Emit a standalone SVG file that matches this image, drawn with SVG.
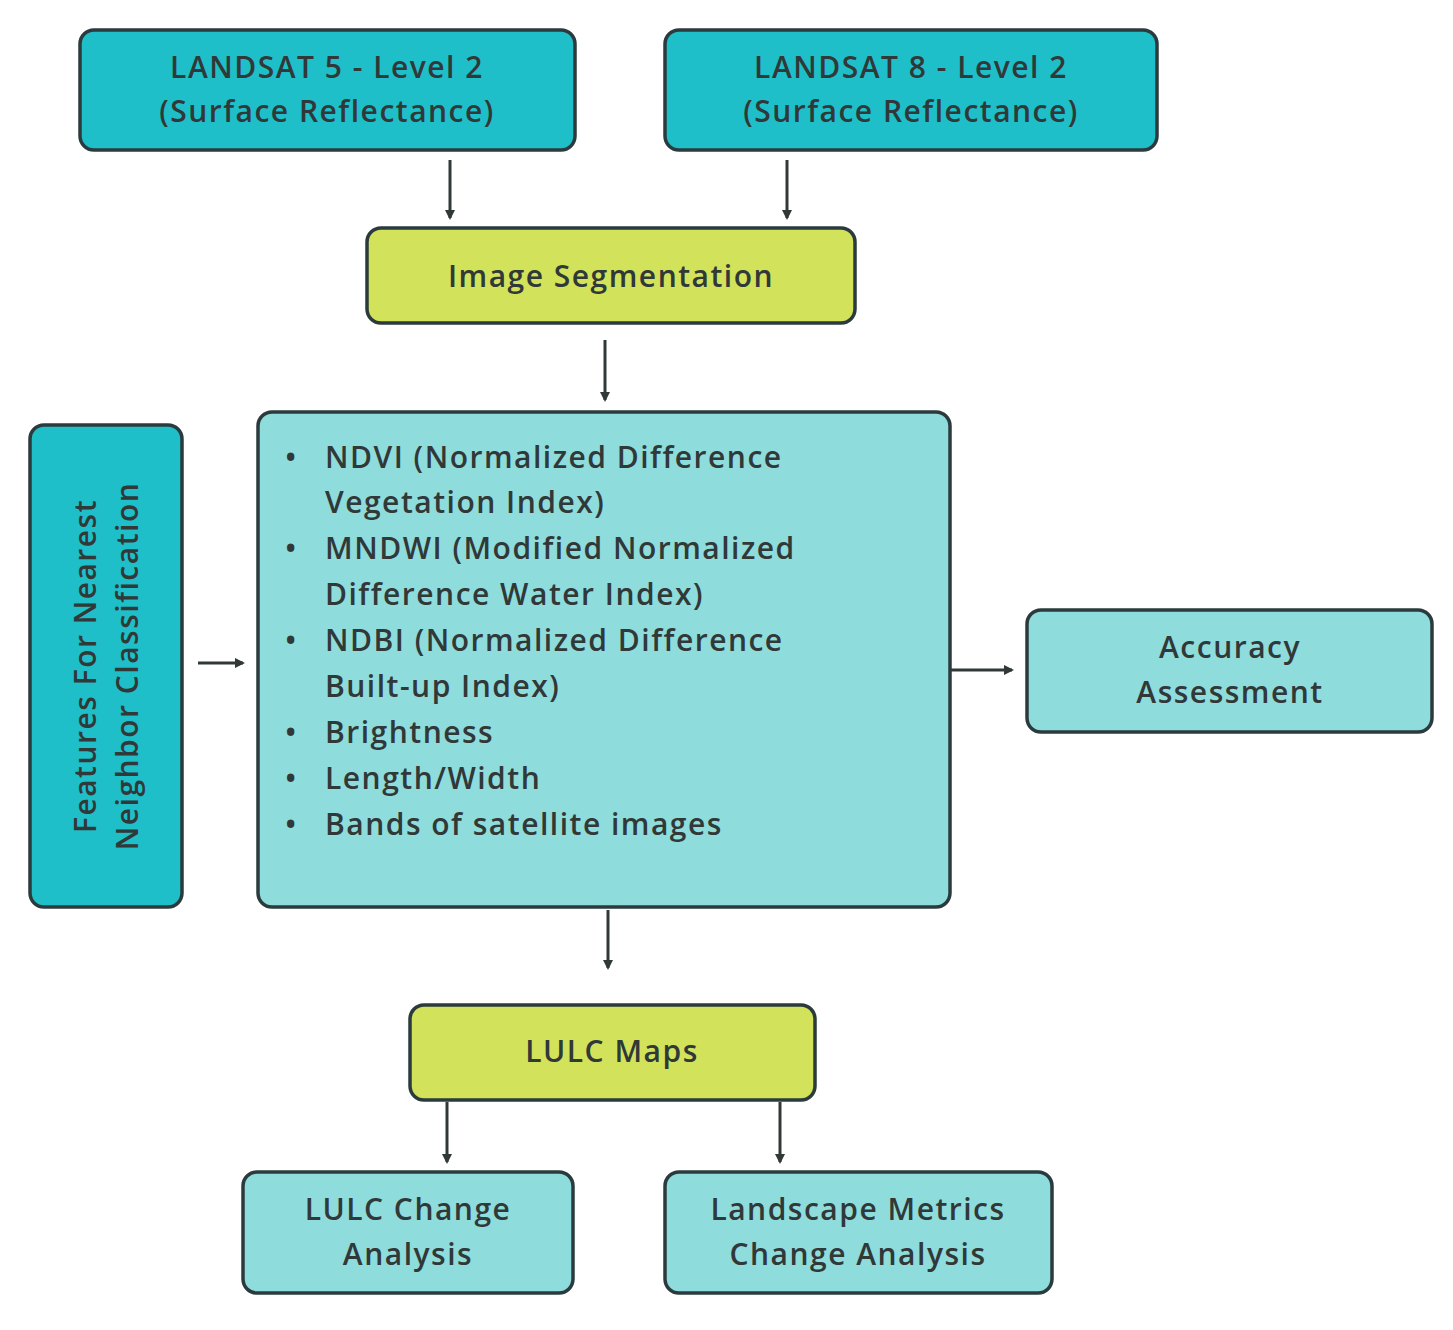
<svg xmlns="http://www.w3.org/2000/svg" width="1453" height="1330" viewBox="0 0 1453 1330">
<defs>
<style>
.box{stroke:#2b3b3d;stroke-width:3.5}
.dark{fill:#1fbfc9}
.light{fill:#8fdcdc}
.yel{fill:#d2e25a}
text{font-family:"Open Sans","DejaVu Sans",sans-serif;font-weight:600;font-size:30px;fill:#303838;letter-spacing:1.5px}
.c{text-anchor:middle}
.ln{stroke:#303838;stroke-width:3;fill:none;marker-end:url(#ah)}
</style>
<marker id="ah" markerWidth="10" markerHeight="10" refX="8" refY="5" orient="auto" markerUnits="userSpaceOnUse"><path d="M0,0 L10,5 L0,10 z" fill="#303838"/></marker>
</defs>
<rect width="1453" height="1330" fill="#fff"/>
<g id="connectors">
<line class="ln" x1="450" y1="160" x2="450" y2="218"/>
<line class="ln" x1="787" y1="160" x2="787" y2="218"/>
<line class="ln" x1="605" y1="340" x2="605" y2="400"/>
<line class="ln" x1="198" y1="663" x2="243" y2="663"/>
<line class="ln" x1="950" y1="670" x2="1012" y2="670"/>
<line class="ln" x1="608" y1="910" x2="608" y2="968"/>
<line class="ln" x1="447" y1="1102" x2="447" y2="1162"/>
<line class="ln" x1="780" y1="1102" x2="780" y2="1162"/>
</g>
<g id="landsat5"><rect class="box dark" x="80" y="30" width="495" height="120" rx="14"/>
<text class="c" x="327" y="78">LANDSAT 5 - Level 2</text><text class="c" x="327" y="122">(Surface Reflectance)</text></g>
<g id="landsat8"><rect class="box dark" x="665" y="30" width="492" height="120" rx="14"/>
<text class="c" x="911" y="78">LANDSAT 8 - Level 2</text><text class="c" x="911" y="122">(Surface Reflectance)</text></g>
<g id="segmentation"><rect class="box yel" x="367" y="228" width="488" height="95" rx="14"/>
<text class="c" x="611" y="287">Image Segmentation</text></g>
<g id="features"><rect class="box dark" x="30" y="425" width="152" height="482" rx="14"/>
<text class="c" transform="translate(96,666) rotate(-90)">Features For Nearest</text>
<text class="c" transform="translate(138,666) rotate(-90)">Neighbor Classification</text></g>
<g id="indices"><rect class="box light" x="258" y="412" width="692" height="495" rx="14"/>
<g>
<text x="285" y="468">•</text><text x="325" y="468">NDVI (Normalized Difference</text>
<text x="325" y="513">Vegetation Index)</text>
<text x="285" y="559">•</text><text x="325" y="559">MNDWI (Modified Normalized</text>
<text x="325" y="605">Difference Water Index)</text>
<text x="285" y="651">•</text><text x="325" y="651">NDBI (Normalized Difference</text>
<text x="325" y="697">Built-up Index)</text>
<text x="285" y="743">•</text><text x="325" y="743">Brightness</text>
<text x="285" y="789">•</text><text x="325" y="789">Length/Width</text>
<text x="285" y="835">•</text><text x="325" y="835">Bands of satellite images</text>
</g></g>
<g id="accuracy"><rect class="box light" x="1027" y="610" width="405" height="122" rx="14"/>
<text class="c" x="1230" y="658">Accuracy</text><text class="c" x="1230" y="703">Assessment</text></g>
<g id="lulcmaps"><rect class="box yel" x="410" y="1005" width="405" height="95" rx="14"/>
<text class="c" x="612" y="1062">LULC Maps</text></g>
<g id="lulcchange"><rect class="box light" x="243" y="1172" width="330" height="121" rx="14"/>
<text class="c" x="408" y="1220">LULC Change</text><text class="c" x="408" y="1265">Analysis</text></g>
<g id="landscape"><rect class="box light" x="665" y="1172" width="387" height="121" rx="14"/>
<text class="c" x="858" y="1220">Landscape Metrics</text><text class="c" x="858" y="1265">Change Analysis</text></g>
</svg>
